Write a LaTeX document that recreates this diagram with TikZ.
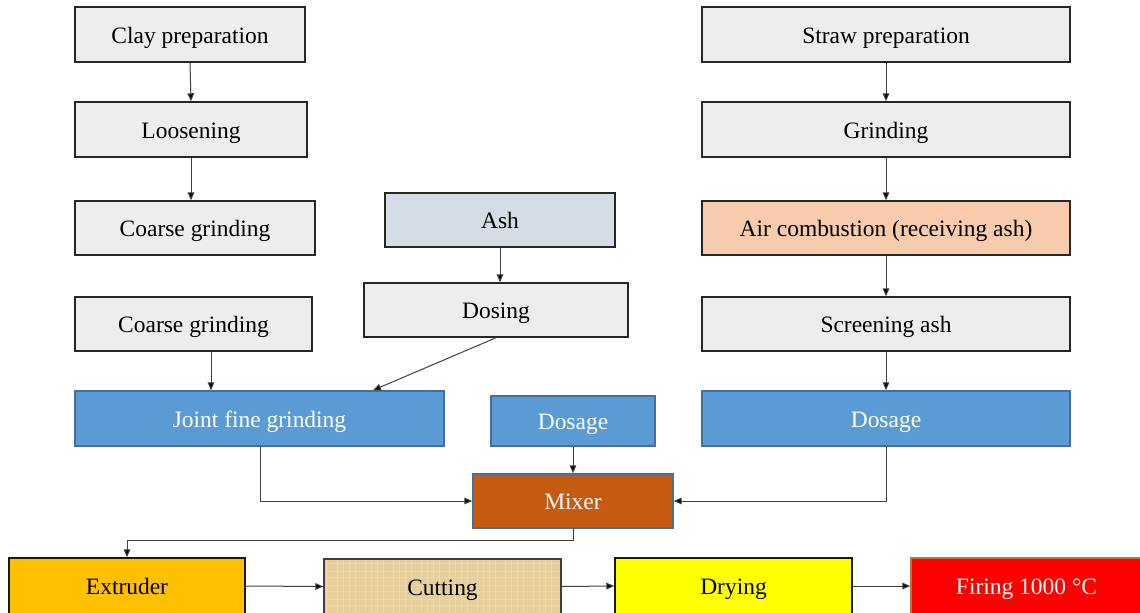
\documentclass[tikz,border=0pt]{standalone}
\usepackage{fontspec}
\setmainfont{Liberation Serif}
\usetikzlibrary{arrows.meta,calc}
\definecolor{boxgray}{HTML}{EDEDED}
\definecolor{boxblue}{HTML}{5B9BD5}
\definecolor{blueline}{HTML}{41719C}
\definecolor{ashfill}{HTML}{D6DCE5}
\definecolor{peach}{HTML}{F8CBAD}
\definecolor{mixerfill}{HTML}{C55A11}
\definecolor{extrfill}{HTML}{FFC000}
\definecolor{cutfill}{HTML}{E6CF9C}
\definecolor{cutline}{HTML}{F2E4C0}
\definecolor{dryfill}{HTML}{FFFF00}
\definecolor{firefill}{HTML}{FF0000}
\definecolor{fireline}{HTML}{B8763E}
\definecolor{conn}{HTML}{404040}
\newcommand{\mkbox}[7]{%
  \node[#1, minimum width={0.75pt*(#5-#3)}, minimum height={0.75pt*(#6-#4)}]
    (#2) at ({(#3+#5)/2},{(#4+#6)/2}) {#7};}
\tikzset{
  base/.style={rectangle, inner sep=0pt, line width=1.1pt,
    text height=13.2pt, text depth=0pt,
    font=\fontsize{17.6}{20}\selectfont},
  graybox/.style={base, draw=black!85, fill=boxgray, text=black},
  bluebox/.style={base, draw=blueline, fill=boxblue, text=white},
  ashbox/.style={base, draw=black!85, fill=ashfill, text=black},
  airbox/.style={base, draw=black!85, fill=peach, text=black},
  mixbox/.style={base, draw=blueline, fill=mixerfill, text=white},
  extrbox/.style={base, draw=black!90, fill=extrfill, text=black},
  cutbox/.style={base, draw=black!75, fill=cutfill, text=black},
  drybox/.style={base, draw=black!90, fill=dryfill, text=black},
  firebox/.style={base, draw=fireline, fill=firefill, text=white},
  arr/.style={draw=conn, line width=0.75pt,
    -{Triangle[length=6pt,width=5pt,fill=black]}},
}
\begin{document}
\begin{tikzpicture}[x=0.75pt,y=-0.75pt]
\useasboundingbox (0,0) rectangle (1140,612);
\clip (0,0) rectangle (1140,612);
% left column
\mkbox{graybox}{clay}{75}{7}{305}{62}{Clay preparation}
\mkbox{graybox}{loos}{75}{102}{307}{157}{Loosening}
\mkbox{graybox}{cgA}{75}{201}{315}{255}{Coarse grinding}
\mkbox{graybox}{cgB}{75}{297}{312}{351}{Coarse grinding}
% middle
\mkbox{ashbox}{ash}{385}{193}{615}{247}{Ash}
\mkbox{graybox}{dosing}{364}{283}{628}{337}{Dosing}
% right column
\mkbox{graybox}{straw}{702}{7}{1070}{62}{Straw preparation}
\mkbox{graybox}{grind}{702}{102}{1070}{157}{Grinding}
\mkbox{airbox}{air}{702}{201}{1070}{255}{Air combustion (receiving ash)}
\mkbox{graybox}{screen}{702}{297}{1070}{351}{Screening ash}
% blue row
\mkbox{bluebox}{joint}{75}{391}{444}{446}{Joint fine grinding}
\mkbox{bluebox}{dosm}{491}{396}{655}{446}{Dosage}
\mkbox{bluebox}{dosr}{702}{391}{1070}{446}{Dosage}
% mixer
\mkbox{mixbox}{mixer}{473}{474}{673}{528}{Mixer}
% bottom row
\mkbox{extrbox}{extr}{9}{558}{245}{614}{Extruder}
\begin{scope}
  \clip (324,559) rectangle (561,614);
  \fill[cutfill] (324,559) rectangle (561,614);
  \foreach \i in {0,...,33} {
    \draw[cutline, line width=0.5pt, opacity=0.45] ({327+\i*7+mod(\i*7,4)},559) -- ++(0,55);
  }
  \foreach \j in {0,...,7} {
    \draw[cutline, line width=0.4pt, opacity=0.3] (324,{563+\j*7+mod(\j*3,2)}) -- ++(237,0);
  }
\end{scope}
\mkbox{cutbox, fill=none}{cut}{324}{559}{561}{614}{Cutting}
\mkbox{drybox}{dry}{615}{558}{852}{614}{Drying}
\mkbox{firebox}{fire}{911}{558}{1142}{614}{Firing 1000 °C}
% helper coordinates
\coordinate (xcg) at (211,0);
\coordinate (xjn) at (373,0);
\coordinate (xjs) at (260,0);
% connectors
\draw[arr] (clay.south) -- (loos.north);
\draw[arr] (loos.south) -- (loos.south |- cgA.north);
\draw[arr] (cgB.south -| xcg) -- (joint.north -| xcg);
\draw[arr] (ash.south) -- (ash.south |- dosing.north);
\draw[arr] (dosing.south) -- (joint.north -| xjn);
\draw[arr] (straw.south) -- (grind.north);
\draw[arr] (grind.south) -- (air.north);
\draw[arr] (air.south) -- (screen.north);
\draw[arr] (screen.south) -- (dosr.north);
\draw[arr] (joint.south -| xjs) |- (mixer.west);
\draw[arr] (dosm.south) -- (mixer.north);
\draw[arr] (dosr.south) |- (mixer.east);
\draw[arr] (mixer.south) -- ++(0,12) -| (extr.north);
\draw[arr] (extr.east) -- (cut.west);
\draw[arr] (cut.east) -- (dry.west);
\draw[arr] (dry.east) -- (fire.west);
\end{tikzpicture}
\end{document}
